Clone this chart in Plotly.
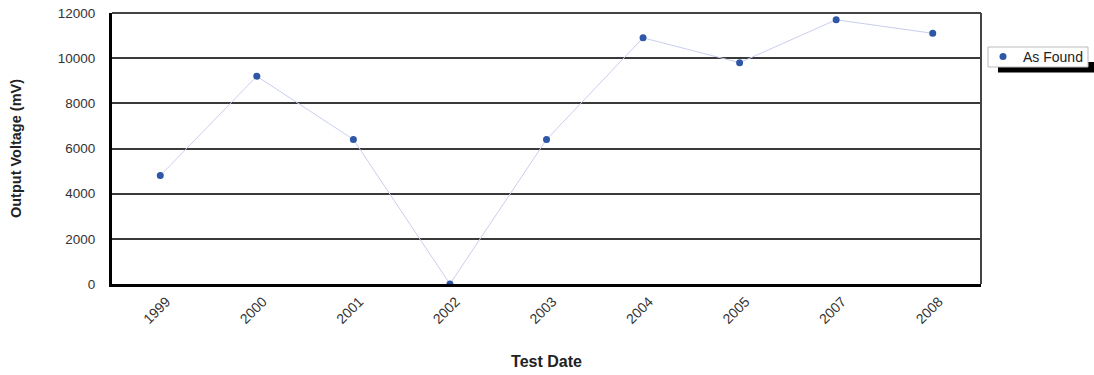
import plotly.graph_objects as go

years = ["1999", "2000", "2001", "2002", "2003", "2004", "2005", "2007", "2008"]
as_found = [4800, 9200, 6400, 0, 6400, 10900, 9800, 11700, 11100]
y_ticks = [0, 2000, 4000, 6000, 8000, 10000, 12000]

W, H = 1094, 375
L, R, T, B = 112, 113, 13, 91
pw, ph = W - L - R, H - T - B

def px(x):
    return (x - L) / pw

def py(y):
    return 1 - (y - T) / ph

fig = go.Figure()
fig.add_trace(go.Scatter(
    x=years, y=as_found, mode="lines", name="As Found line", showlegend=False,
    line=dict(color="#c9cfee", width=1), hoverinfo="skip",
))
fig.add_trace(go.Scatter(
    x=years, y=as_found, mode="markers", name="As Found",
    marker=dict(color="#2f57a8", size=7),
))

font = "Liberation Sans, Arial, sans-serif"
fig.update_layout(
    width=W, height=H,
    margin=dict(l=L, r=R, t=T, b=B, pad=0),
    paper_bgcolor="white", plot_bgcolor="white",
    font=dict(family=font, size=13, color="#333"),
    showlegend=True,
    legend=dict(
        xref="container", yref="container",
        x=983 / W, y=1 - 41 / H, xanchor="left", yanchor="top",
        bgcolor="rgba(0,0,0,0)", borderwidth=0,
        font=dict(family=font, size=14, color="#222"),
        itemwidth=30, tracegroupgap=0,
    ),
    xaxis=dict(
        type="category", range=[-0.5, len(years) - 0.5],
        showgrid=False, showline=True, linecolor="black", linewidth=3,
        tickangle=-45, ticks="", ticklabelstandoff=1, ticklabelshift=6,
        tickfont=dict(family=font, size=14, color="#333"),
        title=dict(text="<b>Test Date</b>", font=dict(family=font, size=16, color="#222"), standoff=30),
        zeroline=False, fixedrange=True, automargin=False,
    ),
    yaxis=dict(
        range=[0, 12000], tickvals=y_ticks, ticktext=[str(v) for v in y_ticks],
        showgrid=True, gridcolor="#3a3a3a", gridwidth=2,
        showline=True, linecolor="black", linewidth=3,
        ticks="", ticklabelstandoff=11,
        tickfont=dict(family=font, size=13.5, color="#333"),
        title=dict(text="<b>Output Voltage (mV)</b>", font=dict(family=font, size=14.5, color="#222"), standoff=33),
        zeroline=False, fixedrange=True, automargin=False,
    ),
    shapes=[
        dict(type="line", xref="paper", yref="paper", x0=0, x1=1, y0=1, y1=1,
             line=dict(color="#444", width=2), layer="above"),
        dict(type="line", xref="paper", yref="paper", x0=1, x1=1, y0=0, y1=1,
             line=dict(color="#444", width=2), layer="above"),
        # legend drop shadow and frame
        dict(type="rect", xref="paper", yref="paper",
             x0=px(998), x1=px(1096), y0=py(72.5), y1=py(62),
             fillcolor="black", line=dict(width=0), layer="below"),
        dict(type="rect", xref="paper", yref="paper",
             x0=px(988), x1=px(1088), y0=py(67), y1=py(47),
             fillcolor="white", line=dict(color="#bbbbbb", width=1), layer="below"),
    ],
)

fig.write_html("out.html")
